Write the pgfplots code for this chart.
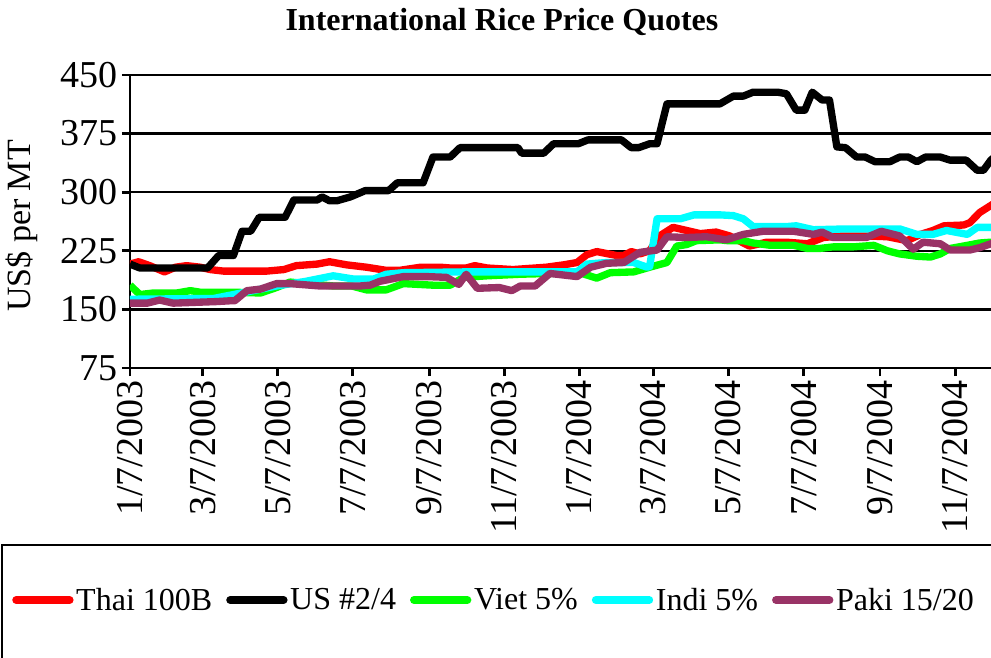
\documentclass[border=0pt]{standalone}
\usepackage{fontspec}
\setmainfont{Liberation Serif}
\usepackage{pgfplots}
\pgfplotsset{compat=1.18}
\definecolor{paki}{RGB}{153,51,102}
\definecolor{indi}{RGB}{0,255,255}
\definecolor{viet}{RGB}{0,255,0}
\definecolor{thai}{RGB}{255,0,0}
\begin{document}
\begin{tikzpicture}
\useasboundingbox (0,0) rectangle (743.25pt,492.75pt);
\clip (0,0) rectangle (743.25pt,492.75pt);
\begin{axis}[
  at={(97.5pt,216.75pt)}, anchor=south west,
  scale only axis, width=665pt, height=219.75pt,
  xmin=0, xmax=720, ymin=75, ymax=450,
  axis x line*=bottom, axis y line*=left,
  axis line style={line width=2.2pt},
  ytick={75,150,225,300,375,450},
  ymajorgrids, grid style={black, line width=1.8pt},
  xtick={0,59,120,181,243,304,365,425,486,547,609,670},
  xticklabels={1/7/2003,3/7/2003,5/7/2003,7/7/2003,9/7/2003,11/7/2003,1/7/2004,3/7/2004,5/7/2004,7/7/2004,9/7/2004,11/7/2004},
  tick align=outside, major tick length=6pt,
  major tick style={line width=2.2pt, black},
  /pgf/number format/assume math mode=true,
  tick label style={font=\fontsize{28.5}{32}\selectfont},
  xticklabel style={rotate=90, anchor=east},
  every axis title shift=0pt,
  title={International Rice Price Quotes},
  title style={font=\fontsize{24}{28}\selectfont\bfseries, at={(axis description cs:0.4195,1.181)}, anchor=center},
  ylabel={US\$ per MT},
  ylabel style={font=\fontsize{25.5}{30}\selectfont, at={(axis description cs:-0.1218,0.4846)}, anchor=center},
  legend columns=5,
  legend style={at={(axis description cs:-0.1331,-0.7918)}, anchor=west, draw=none, fill=none,
    font=\fontsize{24}{28}\selectfont, inner sep=0pt,
    /tikz/every even column/.append style={column sep=8.5pt}},
  legend image code/.code={\draw[#1, line width=6pt, line cap=round] (0pt,0pt) -- (40pt,0pt);},
  every axis plot/.append style={line width=5.5pt, line join=round},
]
\addplot[thai] coordinates {(0,208) (7,211) (16,206) (28,198) (37,204) (46,206) (57,204) (65,201) (76,199) (111,199) (125,201) (135,206) (152,208) (162,211) (176,207) (192,204) (208,200) (219,200) (236,204) (252,204) (260,203) (273,203) (280,206) (290,203) (311,201) (338,204) (352,207) (363,210) (371,220) (379,224) (395,219) (401,219) (407,224) (414,221) (422,225) (430,244) (441,255) (452,251) (463,247) (476,249) (487,244) (503,231) (517,236) (533,236) (550,234) (563,242) (577,244) (598,244) (615,243) (631,238) (642,246) (652,251) (661,257) (677,258) (682,261) (690,274) (699,283) (706,290)};
\addlegendentry{Thai 100B}
\addplot[black] coordinates {(0,208) (8,203) (63,203) (72,219) (84,219) (91,250) (98,250) (105,268) (126,268) (133,290) (152,290) (156,294) (162,289) (168,289) (179,294) (191,302) (210,302) (217,312) (238,312) (246,345) (260,345) (268,357) (315,357) (318,350) (336,350) (344,362) (364,362) (372,367) (399,367) (407,357) (413,357) (422,362) (428,362) (436,413) (479,413) (490,423) (498,423) (506,428) (526,428) (533,426) (541,405) (548,405) (554,428) (562,418) (568,418) (574,358) (581,357) (590,345) (597,345) (605,339) (617,339) (625,345) (632,345) (639,339) (646,345) (658,345) (666,341) (679,341) (688,328) (693,328) (699,341) (706,350)};
\addlegendentry{US \#2/4}
\addplot[viet] coordinates {(0,181) (8,169) (19,171) (38,171) (49,174) (57,172) (84,172) (106,171) (119,178) (130,185) (143,183) (165,180) (180,180) (192,175) (208,175) (222,183) (246,181) (260,181) (271,191) (290,193) (317,195) (365,197) (379,190) (390,197) (409,198) (422,204) (436,210) (444,231) (452,233) (460,238) (479,239) (485,238) (498,238) (506,235) (520,232) (539,232) (550,228) (560,228) (571,230) (587,230) (604,232) (615,225) (625,221) (639,218) (650,217) (658,221) (666,228) (680,232) (690,235) (699,236) (706,237)};
\addlegendentry{Viet 5\%}
\addplot[indi] coordinates {(0,163) (68,164) (84,169) (100,174) (119,180) (143,186) (165,193) (181,189) (198,189) (208,195) (222,197) (271,198) (363,198) (371,208) (387,210) (409,210) (420,204) (422,205) (428,266) (447,266) (458,271) (479,271) (490,270) (498,266) (506,256) (533,256) (541,257) (555,252) (582,253) (625,253) (639,246) (652,246) (663,251) (680,246) (688,255) (699,255) (706,255)};
\addlegendentry{Indi 5\%}
\addplot[paki] coordinates {(0,158) (14,158) (24,162) (35,158) (70,160) (81,161) (85,161) (95,174) (106,176) (119,183) (130,183) (154,180) (187,180) (195,181) (203,186) (222,192) (241,192) (257,191) (267,182) (273,195) (282,177) (300,178) (310,174) (317,180) (329,180) (341,196) (363,192) (374,204) (387,209) (401,210) (414,223) (428,226) (436,243) (452,242) (468,243) (484,239) (498,246) (514,250) (539,250) (555,246) (562,249) (571,242) (598,242) (610,250) (625,244) (636,227) (644,236) (658,234) (666,226) (682,226) (690,229) (699,234) (706,236)};
\addlegendentry{Paki 15/20}
\end{axis}
\draw[line width=1.5pt] (1.5pt,-5pt) |- (760pt,84pt);
\end{tikzpicture}
\end{document}
